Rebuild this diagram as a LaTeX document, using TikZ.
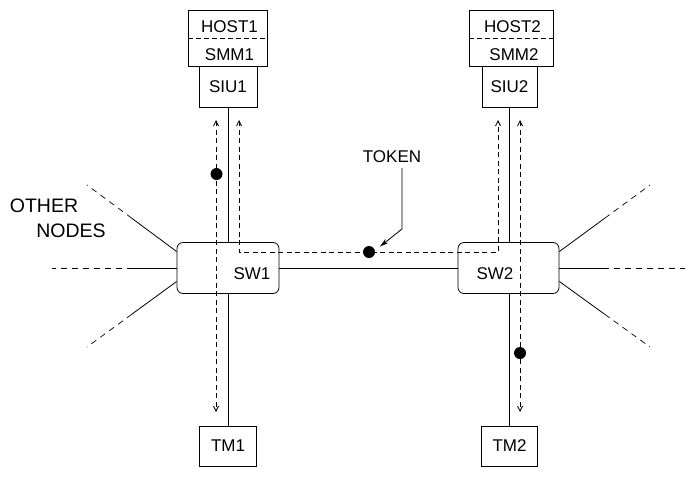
\documentclass[tikz,border=0pt]{standalone}
\usepackage{fontspec}
\setmainfont{Liberation Sans}
\usetikzlibrary{calc,arrows.meta}
\begin{document}
\begin{tikzpicture}[x=1pt,y=-1pt,
  box/.style={draw, line width=0.8pt, inner sep=0pt, font=\fontsize{17}{20}\selectfont},
  lbl/.style={inner sep=0pt, font=\fontsize{17}{20}\selectfont},
  biglbl/.style={inner sep=0pt, font=\fontsize{19.5}{22}\selectfont},
  link/.style={line width=0.8pt},
  sep/.style={line width=0.8pt, dash pattern=on 5pt off 3pt},
  msg/.style={line width=0.8pt, dash pattern=on 5pt off 3.5pt},
  barb/.tip={Straight Barb[length=5pt,width=5pt]},
  ext/.style={line width=0.7pt, dash pattern=on 6pt off 5pt},
  tok/.style={fill, circle, inner sep=0pt, minimum size=12pt},
]
\useasboundingbox (0,0) rectangle (695,477);

% host / smm / siu stacks
\node[box, minimum width=79pt, minimum height=56pt] (host1) at (228,38) {};
\node[lbl] (host1t) at (229.5,26.5) {HOST1};
\node[lbl] (smm1t) at (229.5,54.5) {SMM1};
\draw[sep] (host1.west) -- (host1.east);
\node[box, minimum width=58pt, minimum height=41pt] (siu1) at (228,86.5) {SIU1};

\node[box, minimum width=84pt, minimum height=56pt] (host2) at (511,38) {};
\node[lbl] (host2t) at (512.5,26.5) {HOST2};
\node[lbl] (smm2t) at (514,54.5) {SMM2};
\draw[sep] (host2.west) -- (host2.east);
\node[box, minimum width=55pt, minimum height=41pt] (siu2) at (509.5,86.5) {SIU2};

% switches
\node[box, rounded corners=6pt, minimum width=102pt, minimum height=51pt] (sw1) at (228,268) {};
\node[lbl] (sw1t) at (252,274) {SW1};
\node[box, rounded corners=6pt, minimum width=101pt, minimum height=51pt] (sw2) at (508.5,268) {};
\node[lbl] (sw2t) at (495,274) {SW2};

% terminal modules
\node[box, minimum width=57pt, minimum height=40pt] (tm1) at (228,446) {TM1};
\node[box, minimum width=56pt, minimum height=40pt] (tm2) at (509.5,446) {TM2};

% solid links
\draw[link] (siu1.south) -- (sw1.north);
\draw[link] (sw1.south) -- (tm1.north);
\draw[link] (siu2.south) -- (siu2.south |- sw2.north);
\draw[link] (sw2.south -| tm2.north) -- (tm2.north);
\draw[link] (sw1.east) -- (sw2.west);

% message paths
\coordinate (p1t) at (216,120);
\coordinate (p1b) at (216,412);
\draw[msg, barb-barb] (p1t) -- (p1b);
\coordinate (p2a) at (239,120);
\coordinate (c1) at (239,252);
\coordinate (c2) at (498,252);
\coordinate (p2b) at (498,120);
\draw[msg, barb-barb] (p2a) -- (c1) -- (c2) -- (p2b);
\coordinate (p3t) at (520,120);
\coordinate (p3b) at (520,412);
\draw[msg, barb-barb] (p3t) -- (p3b);

% tokens
\node[tok] (tok1) at (216.5,174) {};
\node[tok] (tok2) at (369,252) {};
\node[tok] (tok3) at (520,353) {};

\node[lbl] (token) at (392,157) {TOKEN};
\coordinate (tstart) at (402,168);
\coordinate (tbend) at (402,229);
\coordinate (tend) at (380,246.5);
\draw[link, -{Stealth[length=9pt,width=5pt]}] (tstart) -- (tbend) -- (tend);

% other nodes
\node[biglbl] (other) at (44,206) {OTHER};
\node[biglbl] (nodes) at (71,231) {NODES};

\coordinate (a1) at ($(sw1.west)+(0,-16.5)$);
\coordinate (a2) at (sw1.west);
\coordinate (a3) at ($(sw1.west)+(0,13.5)$);
\coordinate (l1) at (87,185);
\coordinate (l2) at (52,268);
\coordinate (l3) at (87,347);
\draw[link] (a1) -- ($(a1)!0.5!(l1)$) coordinate (m1);
\draw[ext] (m1) -- (l1);
\draw[link] (a2) -- ($(a2)!0.35!(l2)$) coordinate (m2);
\draw[ext] (m2) -- (l2);
\draw[link] (a3) -- ($(a3)!0.5!(l3)$) coordinate (m3);
\draw[ext] (m3) -- (l3);

\coordinate (b1) at ($(sw2.east)+(0,-16.5)$);
\coordinate (b2) at (sw2.east);
\coordinate (b3) at ($(sw2.east)+(0,13.5)$);
\coordinate (r1) at (650,185);
\coordinate (r2) at (685,268);
\coordinate (r3) at (650,347);
\draw[link] (b1) -- ($(b1)!0.5!(r1)$) coordinate (n1);
\draw[ext] (n1) -- (r1);
\draw[link] (b2) -- ($(b2)!0.35!(r2)$) coordinate (n2);
\draw[ext] (n2) -- (r2);
\draw[link] (b3) -- ($(b3)!0.5!(r3)$) coordinate (n3);
\draw[ext] (n3) -- (r3);
\end{tikzpicture}
\end{document}
